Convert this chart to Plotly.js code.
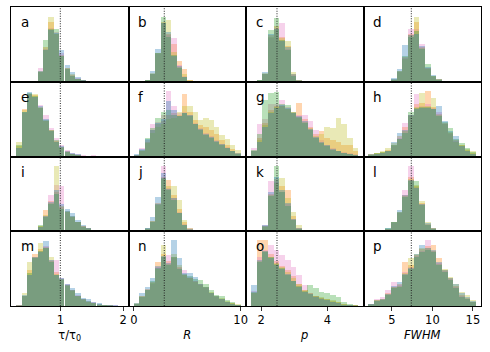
<!DOCTYPE html>
<html lang="en">

<head>
    <meta charset="UTF-8">
    <title>Parameter histograms</title>
    <script src="https://cdn.plot.ly/plotly-3.0.1.min.js" charset="utf-8"></script>
    <style>
        body { margin: 0; }
    </style>
</head>

<body>
    <div id="plot" style="width: 490px; height: 352px;"></div>

    <script>
        // bin centres for each column (shared x per column)
        const tauBins = [0.34, 0.43, 0.51, 0.60, 0.68, 0.77, 0.85, 0.94, 1.02, 1.11, 1.19, 1.28, 1.36, 1.45, 1.53, 1.62, 1.70, 1.79, 1.87, 1.96];
        const rBins = [0.25, 0.75, 1.25, 1.75, 2.25, 2.75, 3.25, 3.75, 4.25, 4.75, 5.25, 5.75, 6.25, 6.75, 7.25, 7.75, 8.25, 8.75, 9.25, 9.75];
        const pBins = [1.785, 1.955, 2.125, 2.295, 2.465, 2.635, 2.805, 2.975, 3.145, 3.315, 3.485, 3.655, 3.825, 3.995, 4.165, 4.335, 4.505, 4.675, 4.845];
        const fwhmBins = [2.45, 3.15, 3.85, 4.55, 5.25, 5.95, 6.65, 7.35, 8.05, 8.75, 9.45, 10.15, 10.85, 11.55, 12.25, 12.95, 13.65, 14.35, 15.05];

        // reference values (dotted lines)
        const refValues = [1.0, 2.85, 2.48, 7.4];

        const panelLabels = ['a', 'b', 'c', 'd', 'e', 'f', 'g', 'h', 'i', 'j', 'k', 'l', 'm', 'n', 'o', 'p'];

        // series order: orange, pink, olive, green, blue (heights in % of panel)
        const histA = [
            [0, 0, 0, 0, 13, 46, 80, 64, 36, 18, 9, 4, 2, 1],
            [0, 0, 0, 0, 19, 44, 72, 66, 38, 17, 8, 5, 2],
            [0, 0, 0, 0, 14, 42, 86, 64, 35, 19, 10, 4, 1],
            [0, 0, 0, 0, 13, 56, 70, 70, 35, 17, 8, 4, 2, 1],
            [0, 0, 0, 0, 15, 43, 69, 65, 42, 22, 13, 6, 2, 1]
        ];
        const histB = [
            [0, 0, 2, 11, 38, 80, 64, 50, 28, 17, 2],
            [0, 0, 1, 10, 37, 79, 62, 58, 22, 8, 1],
            [0, 0, 2, 12, 38, 78, 82, 40, 20, 10, 2],
            [0, 0, 2, 10, 39, 87, 60, 36, 19, 6, 1],
            [0, 0, 3, 15, 44, 78, 66, 35, 21, 7, 1]
        ];
        const histC = [
            [0, 2, 11, 62, 74, 60, 48, 10, 2],
            [0, 1, 10, 58, 72, 78, 44, 9, 1],
            [0, 2, 12, 60, 71, 58, 55, 13, 2],
            [0, 2, 10, 69, 85, 56, 42, 8, 1],
            [0, 3, 13, 64, 70, 55, 46, 11, 2]
        ];
        const histD = [
            [0, 0, 0, 1, 3, 14, 33, 64, 80, 47, 19, 8, 4],
            [0, 0, 0, 1, 4, 13, 32, 71, 70, 51, 18, 7, 3],
            [0, 0, 0, 1, 3, 13, 31, 62, 87, 45, 17, 8, 4],
            [0, 0, 0, 1, 4, 14, 34, 60, 68, 44, 24, 8, 3],
            [0, 0, 0, 1, 5, 17, 49, 62, 64, 48, 20, 9, 4]
        ];
        const histE = [
            [14, 63, 83, 82, 65, 48, 35, 21, 13, 7, 4, 2, 1, 1, 1],
            [12, 58, 84, 80, 69, 56, 38, 25, 16, 9, 5, 3, 2, 1, 2],
            [20, 62, 83, 84, 66, 47, 34, 20, 12, 6, 4, 2, 1, 0, 1],
            [15, 60, 85, 81, 65, 49, 36, 22, 13, 6, 4, 2, 1, 1],
            [12, 59, 86, 80, 67, 50, 34, 20, 14, 8, 5, 3, 1, 1, 1]
        ];
        const histF = [
            [2, 8, 20, 35, 44, 48, 55, 58, 56, 84, 60, 49, 42, 40, 35, 30, 22, 16, 10, 5],
            [2, 12, 22, 43, 46, 55, 87, 67, 58, 60, 55, 45, 38, 31, 27, 22, 17, 13, 8, 4],
            [1, 7, 18, 32, 40, 43, 50, 52, 60, 68, 67, 60, 49, 52, 49, 40, 29, 23, 16, 9],
            [2, 9, 25, 38, 52, 60, 62, 55, 54, 58, 54, 43, 36, 29, 25, 20, 16, 12, 7, 4],
            [3, 10, 24, 36, 45, 50, 74, 62, 54, 58, 56, 44, 37, 30, 26, 21, 17, 12, 8, 5]
        ];
        const histG = [
            [8, 25, 45, 62, 68, 68, 64, 60, 71, 50, 40, 30, 34, 25, 22, 20, 16, 15, 8],
            [12, 43, 50, 70, 70, 76, 66, 58, 55, 56, 47, 36, 22, 16, 11, 8, 6, 5, 3],
            [7, 22, 42, 60, 66, 67, 63, 58, 52, 46, 38, 28, 30, 40, 38, 52, 43, 25, 12],
            [9, 30, 76, 85, 86, 70, 69, 59, 53, 45, 36, 25, 18, 14, 9, 7, 5, 4, 2],
            [7, 20, 40, 58, 65, 69, 65, 58, 54, 47, 37, 26, 19, 15, 10, 7, 5, 4, 2]
        ];
        const histH = [
            [3, 5, 6, 9, 16, 28, 40, 56, 70, 72, 87, 66, 57, 45, 32, 22, 15, 9, 5],
            [2, 4, 5, 8, 14, 25, 45, 55, 83, 68, 70, 65, 60, 44, 30, 21, 14, 8, 4],
            [3, 5, 7, 12, 18, 24, 34, 54, 66, 85, 68, 78, 56, 43, 33, 20, 16, 10, 7],
            [2, 5, 6, 7, 15, 23, 32, 60, 65, 66, 66, 63, 54, 46, 38, 23, 18, 12, 6],
            [3, 4, 5, 8, 20, 32, 36, 56, 64, 65, 65, 64, 67, 47, 34, 27, 14, 7, 4]
        ];
        const histI = [
            [0, 0, 0, 0, 7, 28, 40, 52, 32, 26, 19, 12, 7, 4, 2],
            [0, 0, 0, 0, 6, 20, 49, 62, 60, 27, 20, 13, 7, 4, 2],
            [0, 0, 0, 0, 7, 22, 38, 87, 34, 26, 19, 12, 7, 3, 1],
            [0, 0, 0, 0, 8, 19, 37, 50, 30, 27, 20, 12, 6, 4, 2],
            [0, 0, 0, 0, 6, 21, 39, 55, 36, 30, 24, 15, 8, 4, 2]
        ];
        const histJ = [
            [0, 0, 3, 14, 38, 72, 69, 48, 30, 12, 3],
            [0, 0, 4, 13, 36, 87, 58, 44, 26, 10, 4],
            [0, 0, 3, 14, 35, 70, 60, 60, 42, 15, 4],
            [0, 0, 4, 13, 37, 71, 55, 42, 24, 8, 2],
            [0, 0, 5, 19, 46, 78, 57, 45, 25, 9, 3]
        ];
        const histK = [
            [0, 0, 7, 50, 70, 60, 55, 20, 5],
            [0, 0, 9, 67, 66, 52, 36, 16, 4],
            [0, 0, 6, 48, 65, 71, 45, 26, 8],
            [0, 0, 7, 47, 87, 53, 34, 15, 3],
            [0, 0, 8, 52, 72, 55, 38, 17, 4]
        ];
        const histL = [
            [0, 0, 1, 3, 12, 26, 48, 72, 60, 38, 10, 4],
            [0, 0, 1, 3, 11, 25, 55, 87, 59, 36, 9, 3],
            [0, 0, 1, 3, 13, 24, 47, 70, 62, 40, 13, 4],
            [0, 0, 1, 4, 12, 26, 46, 67, 67, 35, 8, 3],
            [0, 0, 1, 4, 13, 28, 49, 68, 58, 37, 11, 4]
        ];
        const histM = [
            [1, 14, 48, 70, 76, 79, 60, 45, 36, 28, 21, 14, 9, 6, 4, 2, 1, 1],
            [1, 13, 42, 65, 74, 80, 62, 61, 38, 29, 22, 15, 10, 7, 5, 3, 1, 1, 1],
            [1, 17, 59, 66, 84, 78, 66, 43, 35, 27, 20, 13, 8, 6, 4, 2, 1],
            [0, 13, 44, 64, 73, 77, 59, 41, 36, 28, 21, 14, 9, 7, 4, 3, 2, 1],
            [1, 15, 41, 66, 72, 87, 61, 42, 37, 30, 24, 17, 11, 9, 6, 4, 2, 1, 1]
        ];
        const histN = [
            [3, 14, 23, 32, 59, 70, 60, 66, 52, 42, 38, 33, 29, 25, 18, 13, 10, 6, 4, 2],
            [3, 12, 21, 30, 52, 66, 68, 64, 51, 48, 39, 34, 29, 24, 17, 12, 9, 6, 3, 2],
            [4, 13, 22, 31, 50, 82, 56, 70, 55, 41, 37, 32, 28, 26, 19, 13, 11, 7, 4, 3],
            [3, 12, 21, 33, 51, 65, 55, 65, 50, 43, 40, 36, 35, 30, 21, 15, 14, 8, 5, 2],
            [4, 17, 26, 37, 53, 67, 57, 88, 64, 44, 44, 39, 30, 26, 18, 14, 9, 6, 3, 2]
        ];
        const histO = [
            [18, 88, 88, 70, 60, 54, 48, 40, 30, 22, 17, 14, 11, 9, 7, 5, 3, 2, 1],
            [20, 65, 75, 81, 75, 68, 61, 52, 41, 28, 18, 13, 11, 8, 6, 4, 2, 1, 1],
            [17, 60, 74, 66, 58, 52, 45, 38, 30, 22, 16, 14, 12, 10, 8, 5, 3, 2, 1],
            [19, 59, 72, 65, 56, 51, 42, 33, 27, 20, 28, 24, 19, 17, 15, 12, 6, 3, 1],
            [28, 62, 73, 64, 55, 50, 43, 34, 26, 19, 16, 12, 10, 8, 6, 4, 2, 1]
        ];
        const histP = [
            [3, 8, 10, 18, 26, 30, 59, 55, 68, 76, 80, 81, 64, 48, 37, 27, 15, 11, 6],
            [3, 10, 12, 21, 32, 28, 45, 52, 67, 74, 88, 74, 57, 47, 36, 25, 14, 10, 5],
            [2, 7, 9, 16, 25, 27, 44, 64, 70, 78, 78, 73, 56, 50, 39, 30, 19, 15, 8],
            [3, 8, 8, 15, 24, 26, 41, 50, 66, 72, 75, 72, 55, 46, 35, 24, 12, 9, 5],
            [3, 7, 9, 16, 27, 32, 43, 51, 69, 81, 77, 75, 59, 48, 38, 29, 17, 12, 7]
        ];

        const panels = [histA, histB, histC, histD, histE, histF, histG, histH,
            histI, histJ, histK, histL, histM, histN, histO, histP];

        const colours = ['#ff7f0e', '#e377c2', '#bcbd22', '#2ca02c', '#1f77b4'];

        const columns = [
            { bins: tauBins, width: 0.085, range: [0.215, 2.085], ticks: [1, 2], title: 'τ/τ<sub>0</sub>' },
            { bins: rBins, width: 0.5, range: [-0.5, 10.5], ticks: [0, 10], title: '<i>R</i>' },
            { bins: pBins, width: 0.17, range: [1.545, 5.09], ticks: [2, 4], title: '<i>p</i>' },
            { bins: fwhmBins, width: 0.7, range: [1.5, 16.0], ticks: [5, 10, 15], title: '<i>FWHM</i>' }
        ];

        const font = { family: 'DejaVu Sans, sans-serif', color: 'black' };
        const traces = [];
        const shapes = [];
        const annotations = [];
        const layout = {
            width: 490,
            height: 352,
            margin: { l: 11, r: 9, t: 7, b: 46 },
            paper_bgcolor: 'white',
            plot_bgcolor: 'white',
            showlegend: false,
            barmode: 'overlay',
            bargap: 0,
            font: font,
            grid: { rows: 4, columns: 4, pattern: 'independent', xgap: 0, ygap: 0, roworder: 'top to bottom' }
        };

        for (let n = 0; n < 16; n++) {
            const row = Math.floor(n / 4);
            const col = columns[n % 4];
            const sfx = n === 0 ? '' : String(n + 1);
            const bottom = row === 3;

            panels[n].forEach((counts, s) => {
                traces.push({
                    type: 'bar',
                    x: col.bins.slice(0, counts.length),
                    y: counts,
                    width: col.width * 1.01,
                    xaxis: 'x' + sfx,
                    yaxis: 'y' + sfx,
                    marker: { color: colours[s], line: { width: 0 } },
                    opacity: 0.33,
                    hoverinfo: 'skip'
                });
            });

            const xax = {
                range: col.range,
                showline: true, mirror: true, linecolor: 'black', linewidth: 1,
                showgrid: false, zeroline: false,
                ticks: bottom ? 'outside' : '',
                ticklen: 3.5, tickwidth: 0.8, tickcolor: 'black',
                tickvals: col.ticks,
                showticklabels: bottom,
                tickfont: { size: 11.5 }
            };
            if (bottom) {
                xax.title = { text: col.title, font: { size: 11.5 }, standoff: 4 };
            }
            layout['xaxis' + sfx] = xax;
            layout['yaxis' + sfx] = {
                range: [0, 100],
                showline: true, mirror: true, linecolor: 'black', linewidth: 1,
                showgrid: false, zeroline: false,
                ticks: '', showticklabels: false
            };

            shapes.push({
                type: 'line',
                xref: 'x' + sfx, yref: 'y' + sfx + ' domain',
                x0: refValues[n % 4], x1: refValues[n % 4], y0: 0, y1: 1,
                line: { color: '#222', width: 1, dash: '1px,1.5px' }
            });

            annotations.push({
                text: panelLabels[n],
                xref: 'x' + sfx + ' domain', yref: 'y' + sfx + ' domain',
                x: 0.065, y: 0.93, xanchor: 'left', yanchor: 'top',
                showarrow: false,
                font: { size: 13.5 }
            });
        }

        layout.shapes = shapes;
        layout.annotations = annotations;

        Plotly.newPlot('plot', traces, layout, { displayModeBar: false, staticPlot: true });
    </script>
</body>

</html>
